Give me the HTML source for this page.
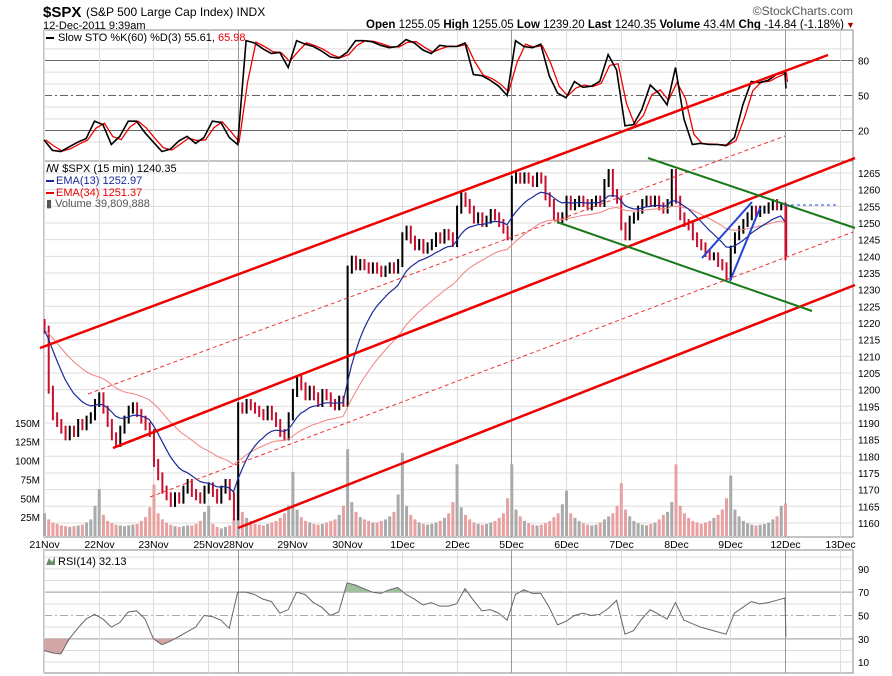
<!DOCTYPE html>
<html><head><meta charset="utf-8"><style>
body{margin:0;background:#fff;}
svg{display:block;font-family:"Liberation Sans",sans-serif;}
</style></head><body>
<svg id="c" width="892" height="676" xmlns="http://www.w3.org/2000/svg">
<text x="43" y="17" font-size="15" font-weight="bold">$SPX</text>
<text x="86" y="16" font-size="12">(S&amp;P 500 Large Cap Index) INDX</text>
<text x="43" y="29" font-size="11">12-Dec-2011 9:39am</text>
<text x="853" y="15" font-size="12" fill="#555" text-anchor="end">©StockCharts.com</text>
<text x="844" y="28" font-size="11.5" text-anchor="end"><tspan font-weight="bold">Open</tspan> 1255.05  <tspan font-weight="bold">High</tspan> 1255.05  <tspan font-weight="bold">Low</tspan> 1239.20  <tspan font-weight="bold">Last</tspan> 1240.35  <tspan font-weight="bold">Volume</tspan> 43.4M  <tspan font-weight="bold">Chg</tspan> -14.84 (-1.18%)</text>
<text x="846" y="28" font-size="9" fill="#a00">▼</text>
<g id="grid"></g>
<g id="marks"></g>
</svg>
<script>
const days=["21Nov","22Nov","23Nov","25Nov","28Nov","29Nov","30Nov","1Dec","2Dec","5Dec","6Dec","7Dec","8Dec","9Dec","12Dec","13Dec"];
const closes=[
1218,1200,1192,1190,1188,1186,1188,1187,1190,1189,1191,1192,1196,
1198,1194,1190,1186,1184,1188,1191,1194,1195,1193,1191,1189,1187,
1178,1174,1170,1168,1166,1168,1167,1170,1172,1169,1168,1167,1170,
1171,1169,1167,1170,1172,1168,1162,
1195,1194,1196,1195,1194,1193,1192,1194,1192,1190,1187,1186,1192,
1199,1203,1201,1198,1200,1198,1196,1199,1198,1196,1195,1197,1196,
1236,1239,1237,1238,1237,1236,1237,1236,1235,1236,1237,1236,1238,
1246,1248,1245,1243,1244,1242,1243,1244,1246,1245,1247,1246,1244,
1254,1258,1256,1254,1251,1252,1250,1251,1253,1252,1250,1248,1246,
1263,1264,1263,1264,1263,1262,1264,1263,1258,1256,1252,1251,1252,
1257,1255,1256,1257,1256,1255,1256,1257,1256,1262,1265,1259,1257,
1249,1246,1251,1252,1254,1256,1257,1256,1257,1255,1254,1256,1265,
1257,1252,1250,1249,1246,1244,1243,1241,1240,1240,1238,1237,1234,
1242,1246,1248,1250,1252,1254,1253,1254,1254,1255,1256,1255,1255,
1240];
const volumes=[
30,22,18,16,14,13,12,13,14,15,18,22,40,
62,28,20,17,15,14,13,14,15,16,20,25,38,
68,30,22,18,15,13,12,13,14,14,16,20,32,
40,16,12,10,12,14,22,
75,32,24,20,16,15,14,16,18,20,24,30,40,
85,35,25,20,18,16,15,16,18,20,22,28,40,
115,45,32,25,22,20,18,18,20,22,26,32,55,
110,40,28,22,18,16,15,16,18,20,24,30,45,
95,38,28,22,18,16,15,16,18,20,24,30,50,
95,35,26,20,17,15,14,15,17,20,25,30,42,
60,30,24,20,17,15,14,15,18,22,26,30,40,
70,35,26,20,17,15,14,16,18,22,28,32,45,
95,40,30,24,20,18,16,18,20,24,28,35,50,
80,35,26,20,17,15,14,15,16,18,22,26,40,
43];
const stoK=[12,3,2,6,10,13,28,25,8,15,28,28,18,10,2,4,11,15,9,14,28,27,14,8,97,95,90,86,87,74,97,94,92,88,83,82,87,97,97,96,93,91,92,98,95,89,86,93,92,92,95,68,67,63,58,50,97,92,91,94,67,52,48,62,57,58,62,85,72,24,25,38,59,52,42,74,30,8,9,8,8,7,14,42,62,61,63,68,70,56];
const rsi=[20,18,17,30,39,47,51,47,40,44,53,54,47,30,25,28,32,36,40,50,49,46,39,70,70,68,64,62,52,55,70,68,61,57,50,53,78,76,73,70,69,72,74,68,64,59,61,58,58,60,73,63,54,55,52,46,68,72,69,69,57,42,45,50,52,50,51,56,63,34,37,47,55,51,47,61,46,43,40,38,36,34,52,57,62,60,61,63,65,32];
const dayStart=[0,13,26,39,46,59,72,85,98,111,124,137,150,163,176,189];
const priceTicks=[1160,1165,1170,1175,1180,1185,1190,1195,1200,1205,1210,1215,1220,1225,1230,1235,1240,1245,1250,1255,1260,1265];
const volTicks=[25,50,75,100,125,150];
const stoTicks=[20,50,80];
const rsiTicks=[10,30,50,70,90];

const X0=44,X1=853,BW=4.21;
const x=i=>X0+i*BW;
const yP=p=>173+(1265-p)*3.333;
const yV=v=>536-v*0.755;
const yS=v=>95.5-(v-50)*1.1667;
const yR=v=>615.5-(v-50)*1.167;
const NS="http://www.w3.org/2000/svg";
const G=document.getElementById('grid'),M=document.getElementById('marks');
function mk(t,a,p){const e=document.createElementNS(NS,t);for(const k in a)e.setAttribute(k,a[k]);(p||M).appendChild(e);return e;}

const panels=[[30,161,'sto-panel'],[161,537,'price-panel'],[550,673,'rsi-panel']];
panels.forEach(p=>{
  const r=mk('rect',{x:X0,y:p[0],width:X1-X0,height:p[1]-p[0],fill:'none',stroke:'#888'},G);
  
  
});
for(let v=10;v<=90;v+=10){ if(v===20||v===50||v===80)continue; mk('line',{x1:X0,x2:X1,y1:yS(v),y2:yS(v),stroke:'#ddd'},G);}
for(let v=0;v<=100;v+=10){ if([30,50,70].includes(v))continue; if(yR(v)>551&&yR(v)<672) mk('line',{x1:X0,x2:X1,y1:yR(v),y2:yR(v),stroke:'#ddd'},G);}
priceTicks.forEach(p=>{
  mk('line',{x1:X0,x2:X1,y1:yP(p),y2:yP(p),stroke:'#ddd'},G);
  const t=mk('text',{x:858,y:yP(p)+4,'font-size':10},G);t.textContent=p;
  
  
});
volTicks.forEach(v=>{
  const t=mk('text',{x:40,y:yV(v)+4,'font-size':10,'text-anchor':'end'},G);t.textContent=v+'M';
  
  
});
stoTicks.forEach(v=>{
  mk('line',{x1:X0,x2:X1,y1:yS(v),y2:yS(v),stroke:'#666','stroke-dasharray':v===50?'8,3,2,3':''},G);
  const t=mk('text',{x:858,y:yS(v)+4,'font-size':10},G);t.textContent=v;
  
  
});
rsiTicks.forEach(v=>{
  if(v===30||v===70) mk('line',{x1:X0,x2:X1,y1:yR(v),y2:yR(v),stroke:'#999'},G);
  if(v===50) mk('line',{x1:X0,x2:X1,y1:yR(v),y2:yR(v),stroke:'#aaa','stroke-dasharray':'8,3,2,3'},G);
  const t=mk('text',{x:858,y:yR(v)+4,'font-size':10},G);t.textContent=v;
  
  
});
days.forEach((d,i)=>{
  const xx=Math.round(x(dayStart[i]))+0.5;
  const wk=(d==='28Nov'||d==='5Dec'||d==='12Dec');
  panels.forEach(p=>mk('line',{x1:xx,x2:xx,y1:p[0],y2:p[1],stroke:wk?'#999':'#ddd'},G));
  const t=mk('text',{x:xx,y:548,'font-size':10.5,'text-anchor':'middle'},G);t.textContent=d;
  
  
});
volumes.forEach((v,i)=>{
  const dn=i>0&&closes[i]<closes[i-1];
  const r=mk('rect',{x:x(i)-1,y:yV(v),width:3,height:536-yV(v),fill:dn?'#e8a0a0':'#aaa'});
  
  
});
closes.forEach((c,i)=>{
  const o=i>0?closes[i-1]:c+2;
  const up=c>=o;
  const hi=Math.max(o,c)+1.2, lo=Math.min(o,c)-1.2;
  const l=mk('line',{x1:x(i)+0.5,x2:x(i)+0.5,y1:yP(hi),y2:yP(lo),stroke:up?'#000':'#c8102e','stroke-width':2});
  
  
});
function ema(arr,n){const k=2/(n+1);let e=arr[0];return arr.map(v=>e=v*k+e*(1-k));}
function poly(vals,fx,fy,attrs,name){
  const e=mk('polyline',Object.assign({points:vals.map((v,i)=>fx(i)+','+fy(v)).join(' '),fill:'none'},attrs));
  
  
  return e;
}
poly(ema(closes,34),x,yP,{stroke:'#f08080','stroke-width':1},'ema34-line');
poly(ema(closes,13),x,yP,{stroke:'#1a2a9a','stroke-width':1.2},'ema13-line');
const sIdx=i=>i<stoK.length-1?x(i*2):x(176)+1;
const stoD=stoK.map((v,i)=>i>0?(0.6*v+0.4*stoK[i-1]):v);
poly(stoD,i=>sIdx(i)+1.5,yS,{stroke:'#e00','stroke-width':1.3},'sto-d-line');
poly(stoK,sIdx,yS,{stroke:'#000','stroke-width':1.6},'sto-k-line');
const rIdx=i=>i<rsi.length-1?x(i*2):x(176)+1;
const defs=mk('defs',{});
const c1=mk('clipPath',{id:'ab'},defs);mk('rect',{x:X0,y:550,width:X1-X0,height:yR(70)-550},c1);
const c2=mk('clipPath',{id:'be'},defs);mk('rect',{x:X0,y:yR(30),width:X1-X0,height:673-yR(30)},c2);
const rpts=rsi.map((v,i)=>rIdx(i)+','+yR(v)).join(' ');
const fa=mk('polygon',{points:rIdx(0)+','+yR(70)+' '+rpts+' '+rIdx(rsi.length-1)+','+yR(70),fill:'#9fbf9f','clip-path':'url(#ab)'});


const fb=mk('polygon',{points:rIdx(0)+','+yR(30)+' '+rpts+' '+rIdx(rsi.length-1)+','+yR(30),fill:'#d4a5a5','clip-path':'url(#be)'});


poly(rsi,rIdx,yR,{stroke:'#666','stroke-width':1},'rsi-line');
const lines=[
 [40,348,828,55,'#e00',2.5,'','upper-channel-line'],
 [113,448,855,158,'#e00',2.5,'','middle-channel-line'],
 [238,528,855,285,'#e00',2.5,'','lower-channel-line'],
 [88,394,785,136,'#e33',1,'4,3','upper-dashed-channel'],
 [150,497,853,232,'#e33',1,'4,3','lower-dashed-channel'],
 [648,158,855,228,'#1a7a1a',2,'','upper-green-line'],
 [557,222,812,311,'#1a7a1a',2,'','lower-green-line'],
 [702,258,752,202,'#2244dd',2,'','blue-line-1'],
 [730,281,760,208,'#2244dd',2,'','blue-line-2'],
 [785,205,838,205,'#2244dd',1,'3,3','blue-dashed-level'],
 [786,206,786,256,'#c8102e',2.5,'','last-bar']
];
lines.forEach(l=>{
  const e=mk('line',{x1:l[0],y1:l[1],x2:l[2],y2:l[3],stroke:l[4],'stroke-width':l[5],'stroke-dasharray':l[6]});
  
  
});
function txt(xx,yy,s,fill,name){const t=mk('text',{x:xx,y:yy,'font-size':11,fill:fill||'#000'});t.textContent=s;
  
  return t;}
mk('rect',{x:46,y:37,width:8,height:2,fill:'#000'});
const st=txt(58,41,'Slow STO %K(60) %D(3) 55.61, ','#000','sto-legend');
const sr=mk('tspan',{fill:'#e00'},st);sr.textContent='65.98';
txt(46,172,'ꟿ $SPX (15 min) 1240.35','#000','price-legend');
mk('rect',{x:46,y:180,width:8,height:2,fill:'#1a2a9a'});
txt(56,184,'EMA(13) 1252.97','#1a2a9a','ema13-legend');
mk('rect',{x:46,y:192,width:8,height:2,fill:'#e00'});
txt(56,196,'EMA(34) 1251.37','#e00','ema34-legend');
txt(46,207,'▮ Volume 39,809,888','#555','volume-legend');
mk('polygon',{points:'46,565 49,558 52,562 55,556 55,565',fill:'#6a8f6a'});
txt(58,565,'RSI(14) 32.13','#000','rsi-legend');
</script>
</body></html>
